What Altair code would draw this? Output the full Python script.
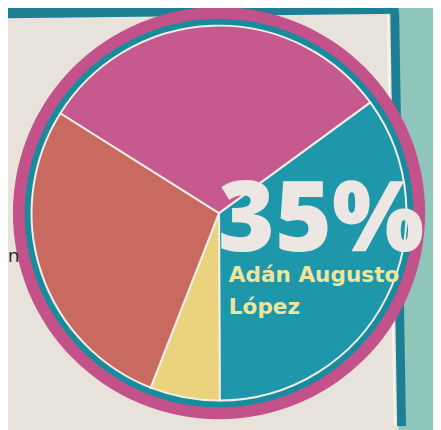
import math
import altair as alt
import pandas as pd

# ---- data ----
candidates = ["Adán Augusto López", "Candidato B", "Candidato C", "Candidato D"]
shares = [35, 6, 28, 31]
slice_colors = ["#1f97aa", "#ead37c", "#c86a60", "#c65a8e"]

big_label = "35%"
name_lines = ["Adán Augusto", "López"]
side_text = "n"

df = pd.DataFrame({"candidato": candidates, "pct": shares, "orden": list(range(len(shares)))})
one = pd.DataFrame({"k": [0]})

W, H = 433, 422
cx, cy = 215, 205
start = math.radians(53.8)
full = 2 * math.pi

base = alt.Chart(one)

# page decoration (newspaper frame)
right_fill = base.mark_rect(color="#8fc6bc").encode(
    x=alt.value(398), x2=alt.value(450), y=alt.value(-10), y2=alt.value(440))
white_line = base.mark_rule(color="#f7f5f0", strokeWidth=2).encode(
    x=alt.value(387), x2=alt.value(394), y=alt.value(0), y2=alt.value(422))
right_band = base.mark_rule(color="#1d7f93", strokeWidth=9).encode(
    x=alt.value(394), x2=alt.value(401), y=alt.value(0), y2=alt.value(422))
top_band = base.mark_rule(color="#1d7f93", strokeWidth=11).encode(
    x=alt.value(-8), x2=alt.value(398), y=alt.value(1), y2=alt.value(-3.5))

# rings around the pie
pink_ring = base.mark_arc(outerRadius=210, theta=0, theta2=full, color="#c3528b").encode(
    x=alt.value(cx), y=alt.value(cy))
teal_ring = base.mark_arc(outerRadius=198, theta=0, theta2=full, color="#1a8b9c").encode(
    x=alt.value(cx), y=alt.value(cy))

pie = alt.Chart(df).mark_arc(outerRadius=191, stroke="#f3efe8", strokeWidth=2).encode(
    theta=alt.Theta("pct:Q", stack=True, scale=alt.Scale(range=[start, start + full])),
    order=alt.Order("orden:Q"),
    color=alt.Color("candidato:N", scale=alt.Scale(domain=candidates, range=slice_colors), legend=None),
    x=alt.value(cx), y=alt.value(cy),
)

side = base.mark_text(text=side_text, font="Open Sans", fontSize=19, color="#1c1c1c",
                      align="left", baseline="alphabetic").encode(
    x=alt.value(0), y=alt.value(255))

big = base.mark_text(text=big_label, font="Open Sans", fontWeight=800, fontSize=99,
                     color="#ece7e2", align="left", baseline="alphabetic").encode(
    x=alt.value(214), y=alt.value(244))

names = base.mark_text(text="\n".join(name_lines), lineBreak="\n", lineHeight=33,
                       font="DejaVu Sans", fontWeight="bold", fontSize=22,
                       color="#ece69e", align="left", baseline="alphabetic").encode(
    x=alt.value(225), y=alt.value(275))

chart = alt.layer(
    right_fill, white_line, right_band, top_band,
    pink_ring, teal_ring, pie, side, big, names
).properties(
    width=W, height=H, padding=0,
    autosize=alt.AutoSizeParams(type="none"),
    background="#e8e3da",
).configure_view(stroke=None)

chart.save("out.html", embed_options={"renderer": "svg", "actions": False})
